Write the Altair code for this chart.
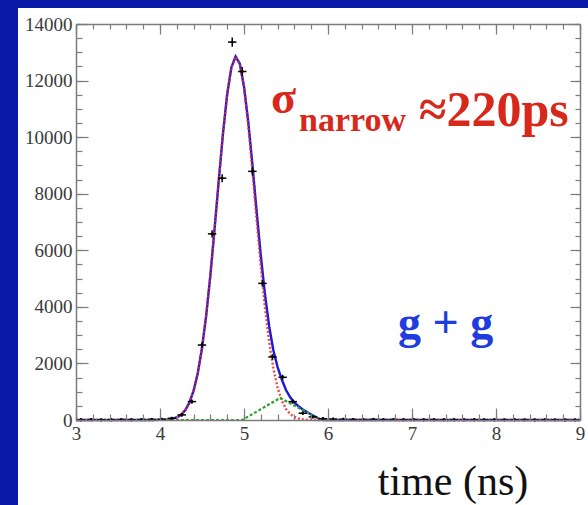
import altair as alt
import pandas as pd

# ---- measured histogram (bin centres, counts) ----
bin_t = [3.06, 3.18, 3.30, 3.42, 3.54, 3.66, 3.78, 3.90, 4.02, 4.14,
         4.26, 4.38, 4.50, 4.62, 4.74, 4.86, 4.98, 5.10, 5.22, 5.34,
         5.46, 5.58, 5.70, 5.82, 5.94, 6.06, 6.18, 6.30, 6.42, 6.54,
         6.66, 6.78, 6.90, 7.02, 7.14, 7.26, 7.38, 7.50, 7.62, 7.74,
         7.86, 7.98, 8.10, 8.22, 8.34, 8.46, 8.58, 8.70, 8.82, 8.94]
counts = [8, 12, 6, 10, 14, 9, 15, 18, 25, 60,
          180, 650, 2650, 6580, 8550, 13360, 12320, 8790, 4830, 2230,
          1510, 650, 240, 110, 45, 30, 22, 18, 14, 20,
          12, 16, 10, 14, 9, 12, 8, 11, 7, 10,
          6, 9, 5, 8, 6, 4, 7, 5, 3, 4]

# ---- fitted curves ----
curve_t = [3.0, 3.5, 3.9, 4.0, 4.05, 4.1, 4.15, 4.2, 4.25, 4.3, 4.35, 4.4, 4.45,
           4.5, 4.55, 4.6, 4.65, 4.7, 4.75, 4.8, 4.85, 4.9, 4.95, 5.0, 5.05,
           5.1, 5.15, 5.2, 5.25, 5.3, 5.35, 5.4, 5.45, 5.5, 5.55, 5.6, 5.65,
           5.7, 5.75, 5.8, 5.85, 5.9, 5.95, 6.0, 6.5, 7.0, 7.5, 8.0, 8.5, 9.0]
narrow_fit = [0, 0, 1, 4, 9, 21, 46, 95, 186, 346, 613, 1036, 1663,
              2543, 3700, 5126, 6762, 8485, 10136, 11524, 12472, 12849, 12596, 11754, 10441,
              8827, 7102, 5441, 3965, 2752, 1817, 1142, 683, 390, 211, 109, 53,
              25, 11, 5, 2, 1, 0, 0, 0, 0, 0, 0, 0, 0]
total_fit = [0, 0, 1, 4, 9, 21, 46, 95, 186, 346, 613, 1036, 1663,
             2543, 3700, 5126, 6762, 8485, 10136, 11524, 12472, 12849, 12596, 11789, 10562,
             9035, 7397, 5822, 4433, 3307, 2458, 1870, 1431, 1059, 800, 619, 483,
             375, 282, 196, 113, 33, 0, 0, 0, 0, 0, 0, 0, 0]
wide_t = [3.0, 4.98, 5.43, 5.92, 9.0]
wide_fit = [0, 0, 780, 0, 0]

# ---- axis ticks ----
x_major = [3, 4, 5, 6, 7, 8, 9]
x_minor = [round(3 + 0.2 * k, 1) for k in range(31)]
y_major = [0, 2000, 4000, 6000, 8000, 10000, 12000, 14000]
y_minor = list(range(0, 14001, 500))

W, H = 504, 396
GRAY = "#7c7c7c"
SERIF = "Liberation Serif"
RED_TXT = "#d8281c"
BLUE_TXT = "#1f3ce0"

pts = pd.DataFrame({"t": bin_t, "n": counts})
curves = pd.DataFrame({"t": curve_t, "narrow": narrow_fit, "total": total_fit})
wide = pd.DataFrame({"t": wide_t, "w": wide_fit})
one = pd.DataFrame({"k": [0]})

xs = alt.Scale(domain=[3, 9], nice=False, zero=False)
ys = alt.Scale(domain=[0, 14000], nice=False)


def lab_axis(orient, values):
    return alt.Axis(orient=orient, values=values, ticks=False, domain=False, grid=False,
                    format="d", labelFont=SERIF, labelFontSize=19, labelColor="#3a3a3a",
                    labelPadding=4, labelOverlap=False, labelFlush=False, title=None, zindex=1)


def tick_axis(orient, offset, values, size, domain):
    return alt.Axis(orient=orient, offset=offset, values=values, tickSize=size,
                    labels=False, domain=domain, domainColor=GRAY, domainWidth=1.5,
                    tickColor=GRAY, tickWidth=1.2, grid=False, title=None, zindex=1)


panel = alt.Chart(one).mark_rect(color="white").encode(
    x=alt.value(-58), x2=alt.value(W + 8), y=alt.value(-16), y2=alt.value(H + 85))

total_line = alt.Chart(curves).mark_line(color="#1a1ad8", strokeWidth=2.4).encode(
    x=alt.X("t:Q", scale=xs, axis=lab_axis("bottom", x_major)),
    y=alt.Y("total:Q", scale=ys, axis=lab_axis("left", y_major)))

narrow_line = alt.Chart(curves).mark_line(color="#e62a2a", strokeWidth=2.4,
                                          strokeDash=[2, 2], opacity=0.85).encode(
    x=alt.X("t:Q", scale=xs, axis=tick_axis("top", -H, x_major, 12, True)),
    y=alt.Y("narrow:Q", scale=ys, axis=tick_axis("right", -W, y_major, 12, True)))

wide_line = alt.Chart(wide).mark_line(color="#2ea02e", strokeWidth=2.2,
                                      strokeDash=[3, 2]).encode(
    x=alt.X("t:Q", scale=xs, axis=tick_axis("top", -H, x_minor, 6, False)),
    y=alt.Y("w:Q", scale=ys, axis=tick_axis("right", -W, y_minor, 6, False)))

hbar = alt.Chart(pts).transform_calculate(
    tl="datum.t - 0.05", tr="datum.t + 0.05").mark_rule(color="black", strokeWidth=1.5).encode(
    x=alt.X("tl:Q", scale=xs, axis=tick_axis("bottom", -H, x_major, 10, True)),
    x2="tr:Q",
    y=alt.Y("n:Q", scale=ys, axis=tick_axis("left", -W, y_major, 10, True)))

vbar = alt.Chart(pts).transform_calculate(
    lo="datum.n - sqrt(datum.n) - 50", hi="datum.n + sqrt(datum.n) + 50").mark_rule(
    color="black", strokeWidth=1.5).encode(
    x=alt.X("t:Q", scale=xs, axis=tick_axis("bottom", -H, x_minor, 5, False)),
    y=alt.Y("lo:Q", scale=ys, axis=tick_axis("left", -W, y_minor, 5, False)),
    y2="hi:Q")

dots = alt.Chart(pts).mark_point(filled=True, color="black", size=8, opacity=1).encode(
    x=alt.X("t:Q", scale=xs, axis=None),
    y=alt.Y("n:Q", scale=ys, axis=None))


def label(txt, x, y, size, color, weight="bold"):
    return alt.Chart(one).mark_text(text=txt, font=SERIF, fontSize=size, fontWeight=weight,
                                    color=color, align="left", baseline="alphabetic").encode(
        x=alt.value(x), y=alt.value(y))


sigma = label("σ", 195, 89, 46, RED_TXT)
sub = label("narrow", 223, 107, 34, RED_TXT)
val = label("≈220ps", 343, 102, 50, RED_TXT)
gg = label("g + g", 322, 314, 46, BLUE_TXT)
xtitle = alt.Chart(one).mark_text(text="time (ns)", font=SERIF, fontSize=42,
                                  color="#111111", align="center",
                                  baseline="alphabetic").encode(
    x=alt.value(377), y=alt.value(471))

chart = alt.layer(panel, total_line, narrow_line, wide_line, hbar, vbar, dots,
                  sigma, sub, val, gg, xtitle).resolve_axis(
    x="independent", y="independent").properties(
    width=W, height=H,
    autosize=alt.AutoSizeParams(type="none"),
    padding={"left": 76, "top": 24, "right": 8, "bottom": 85},
    background="#0a1aa8").configure_view(strokeWidth=0, fill=None)

chart.save("out.html", embed_options={"renderer": "svg", "actions": False})
